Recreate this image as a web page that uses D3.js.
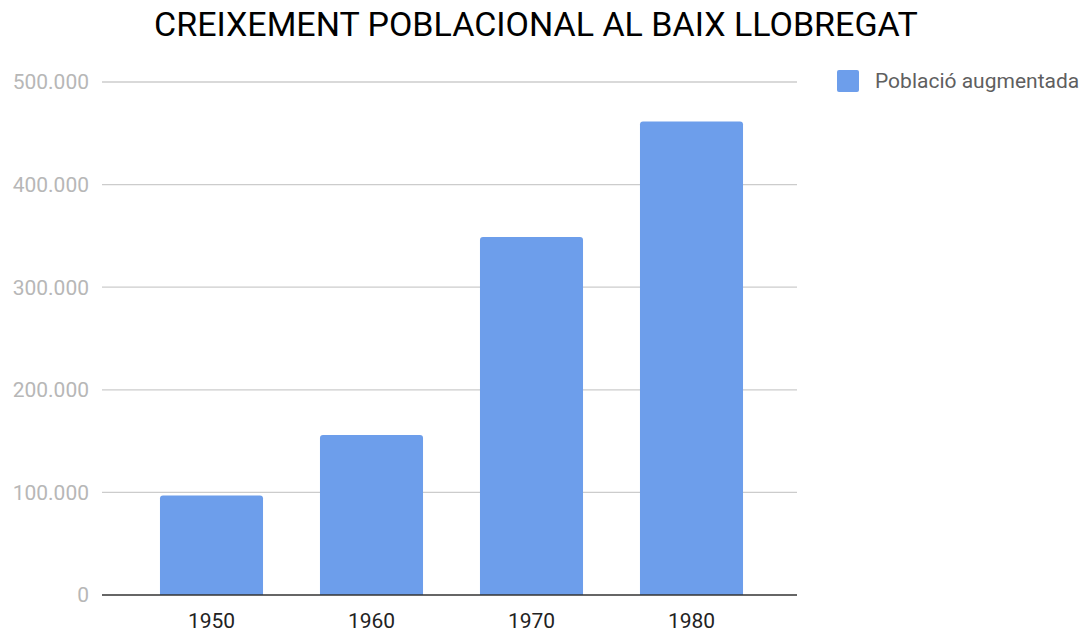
<!DOCTYPE html>
<html>
<head>
<meta charset="utf-8">
<script src="https://cdn.jsdelivr.net/npm/d3@7"></script>
<style>
  html, body { margin: 0; padding: 0; background: #fff; }
  svg { display: block; font-family: Roboto, "Noto Sans", sans-serif; }
</style>
</head>
<body>
<svg id="chart" width="1081" height="636"></svg>
<script>
const categories = ["1950", "1960", "1970", "1980"];
const values = [97000, 156000, 349000, 461500];
const yTicks = [0, 100000, 200000, 300000, 400000, 500000];
const seriesName = "Població augmentada";
const title = "CREIXEMENT POBLACIONAL AL BAIX LLOBREGAT";

const svg = d3.select("#chart");
const axisLeft = 102, axisRight = 797;

const x = d3.scaleBand()
  .domain(categories)
  .range([131.5, 771.5])
  .paddingInner(0.356)
  .paddingOuter(0.178);

const y = d3.scaleLinear().domain([0, 500000]).range([595, 82]);

const fmt = v => v === 0 ? "0" : d3.format(",")(v).replace(/,/g, ".");

// title
svg.append("text")
  .attr("x", 536).attr("y", 36)
  .attr("text-anchor", "middle")
  .attr("font-size", 34)
  .attr("fill", "#000")
  .text(title);

// gridlines
svg.append("g").selectAll("line")
  .data(yTicks.filter(d => d !== 0))
  .join("line")
  .attr("x1", axisLeft).attr("x2", axisRight)
  .attr("y1", d => y(d)).attr("y2", d => y(d))
  .attr("stroke", "#cccccc").attr("stroke-width", 1.3);

// y labels
svg.append("g").selectAll("text")
  .data(yTicks)
  .join("text")
  .attr("x", 89).attr("y", d => y(d))
  .attr("dy", "0.35em")
  .attr("text-anchor", "end")
  .attr("font-size", 21)
  .attr("fill", "#b7b7b7")
  .text(fmt);

// bars with rounded top corners
const r = 3;
svg.append("g").selectAll("path")
  .data(categories.map((c, i) => ({c, v: values[i]})))
  .join("path")
  .attr("fill", "#6d9eeb")
  .attr("d", d => {
    const x0 = x(d.c), x1 = x0 + x.bandwidth(), y0 = y(0), y1 = y(d.v);
    return `M${x0},${y0}V${y1 + r}Q${x0},${y1} ${x0 + r},${y1}H${x1 - r}Q${x1},${y1} ${x1},${y1 + r}V${y0}Z`;
  });

// baseline
svg.append("line")
  .attr("x1", axisLeft).attr("x2", axisRight)
  .attr("y1", y(0)).attr("y2", y(0))
  .attr("stroke", "#333").attr("stroke-width", 1.4);

// x labels
svg.append("g").selectAll("text")
  .data(categories)
  .join("text")
  .attr("x", d => x(d) + x.bandwidth() / 2)
  .attr("y", 628)
  .attr("text-anchor", "middle")
  .attr("font-size", 21)
  .attr("fill", "#222")
  .text(d => d);

// legend
svg.append("rect")
  .attr("x", 837).attr("y", 70).attr("width", 22).attr("height", 22)
  .attr("rx", 2)
  .attr("fill", "#6d9eeb");
svg.append("text")
  .attr("x", 875).attr("y", 81).attr("dy", "0.35em")
  .attr("font-size", 21)
  .attr("fill", "#5f5f5f")
  .text(seriesName);
</script>
</body>
</html>
